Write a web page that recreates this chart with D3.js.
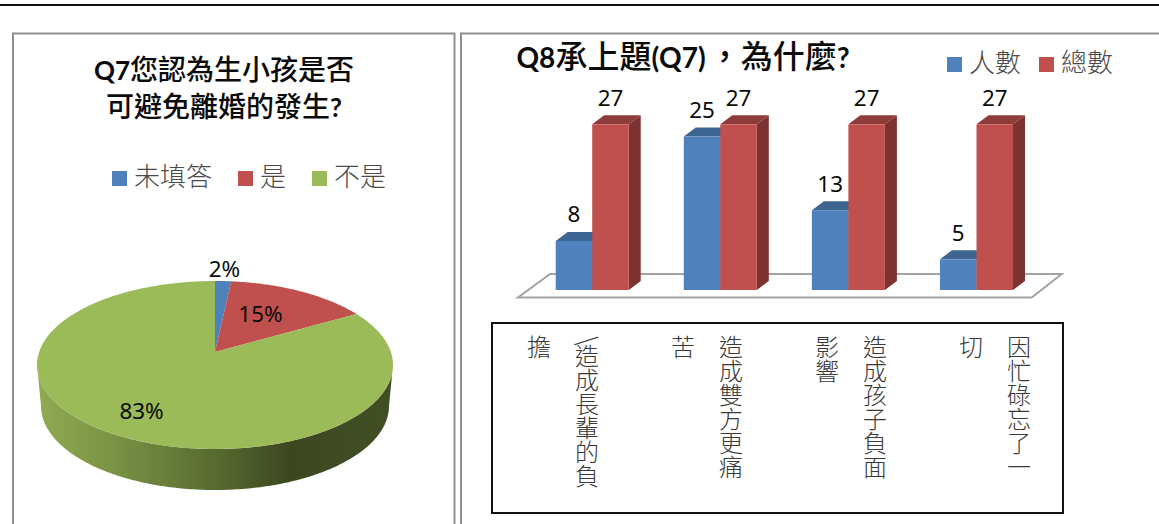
<!DOCTYPE html>
<html lang="zh-TW">
<head>
<meta charset="utf-8">
<script src="https://cdnjs.cloudflare.com/ajax/libs/d3/7.8.5/d3.min.js"></script>
<style>
html,body{margin:0;padding:0;background:#fff;overflow:hidden}
svg{display:block}
text{font-family:"Lato","Noto Sans CJK TC",sans-serif}
text.num{font-family:"Noto Sans","Noto Sans CJK TC",sans-serif}
</style>
</head>
<body>
<svg id="c" width="1159" height="524"></svg>
<script>
// Q7 data
const q7TitleLines = ["Q7您認為生小孩是否", "可避免離婚的發生?"];
const q7Names = ["未填答", "是", "不是"];
const q7Percent = [1.7, 15.0, 83.3];
const q7Colors = ["#4f81bd", "#c0504d", "#9bbb59"];
// Q8 data
const q8Title = "Q8承上題(Q7)，為什麼?";
const q8Categories = ["/造成長輩的負擔", "造成雙方更痛苦", "造成孩子負面影響", "因忙碌忘了一切"];
const q8WrapLength = [7, 6, 6, 6];
const q8SeriesNames = ["人數", "總數"];
const q8People = [8, 25, 13, 5];
const q8Total = [27, 27, 27, 27];

const svg = d3.select("#c");
const defs = svg.append("defs");

function frame(pts, color, w){
  svg.append("path").attr("d", d3.line()(pts)).attr("fill","none").attr("stroke",color).attr("stroke-width",w);
}
// page rule and panel frames
frame([[0,5],[1159,5]], "#111", 2);
frame([[13,524],[13,33.5],[454.5,33.5],[454.5,524]], "#8f8f8f", 2);
frame([[461,524],[461,33.5],[1159,33.5]], "#8f8f8f", 2);

function mixedTitle(parent, str, x, y, anchor, latinSize, cjkSize, runDx){
  const t = parent.append("text").attr("x",x).attr("y",y).attr("text-anchor",anchor).attr("fill","#0b0b0b");
  (str.match(/[\x00-\x7f]+|[^\x00-\x7f]+/g)||[]).forEach((run,i)=>{
    const latin = /^[\x00-\x7f]/.test(run);
    t.append("tspan").text(run)
      .attr("dx", runDx ? (runDx[i]||0) : 0)
      .attr("font-weight", latin ? 700 : 500)
      .attr("font-size", latin ? latinSize : cjkSize);
  });
}
function legend(names, colors, x0, ySquare, gap){
  let x = x0;
  names.forEach((n,i)=>{
    svg.append("rect").attr("x",x).attr("y",ySquare).attr("width",15).attr("height",15).attr("fill",colors[i]);
    svg.append("text").attr("x",x+22).attr("y",ySquare+15).attr("font-size",26).attr("font-weight",300).attr("fill","#4a4a4a").text(n);
    x += 22 + n.length*26 + gap;
  });
}

// ---------- Q7 pie ----------
q7TitleLines.forEach((l,i)=>mixedTitle(svg,l,224,[80,117][i],"middle",26,28));
legend(q7Names,q7Colors,112,171,26);

const pieCx = 215, pieCy = 365, rx = 178, ry = 84, depth = 41, tilt = 13/84;
const ex = d3.scaleLinear().domain([-1,1]).range([pieCx-rx,pieCx+rx]);
const ey = d3.scaleLinear().domain([-1,1]).range([pieCy+ry,pieCy-ry]);
// unit disc point -> perspective-tilted ellipse point
function project(a, r){
  const X = r*Math.sin(a), Y = r*Math.cos(a), den = 1+tilt*Y;
  return [ex(X*Math.sqrt(1-tilt*tilt)/den), ey((Y+tilt)/den)];
}
const arcs = d3.pie().sort(null).value(d=>d)(q7Percent);

// side wall
const sideGrad = defs.append("linearGradient").attr("id","side").attr("gradientUnits","userSpaceOnUse")
  .attr("x1",pieCx-rx).attr("x2",pieCx+rx).attr("y1",0).attr("y2",0);
[[0,"#90ab52"],[0.2,"#7b9445"],[0.5,"#586b30"],[0.71,"#3c4720"],[1,"#424f24"]].forEach(s=>
  sideGrad.append("stop").attr("offset",s[0]).attr("stop-color",s[1]));
const angles = d3.range(0,181).map(d=>d*Math.PI/180);
const topEdge = angles.map(t=>[pieCx+rx*Math.cos(t), pieCy+ry*Math.sin(t)]);
const botRx = rx-4;
const botEdge = angles.slice().reverse().map(t=>[pieCx+botRx*Math.cos(t), pieCy+depth+ry*Math.sin(t)]);
svg.append("path").attr("d",d3.line()(topEdge.concat(botEdge))+"Z").attr("fill","url(#side)");

// top face slices
const apex = project(0,0);
svg.selectAll(".slice").data(arcs).enter().append("path").attr("class","slice")
  .attr("fill",(d,i)=>q7Colors[i])
  .attr("d",d=>{
    const n = Math.max(2,Math.ceil((d.endAngle-d.startAngle)*60));
    const pts = d3.range(n+1).map(k=>project(d.startAngle+(d.endAngle-d.startAngle)*k/n,1));
    return d3.line()([apex].concat(pts))+"Z";
  });

// pie labels
const labelR = [1.2, 0.6, 0.75], labelDx = [0, -8, 0];
svg.selectAll(".plabel").data(arcs).enter().append("text").attr("class","plabel num")
  .attr("text-anchor","middle").attr("font-size",22.4).attr("fill","#0b0b0b")
  .attr("x",(d,i)=>project((d.startAngle+d.endAngle)/2,labelR[i])[0]+labelDx[i])
  .attr("y",(d,i)=>project((d.startAngle+d.endAngle)/2,labelR[i])[1]+8)
  .text(d=>d3.format(".0f")(d.data)+"%");

// ---------- Q8 bars ----------
mixedTitle(svg,q8Title,516.5,68,"start",28,32,[0,0,0,3,0]);
legend(q8SeriesNames,["#4f81bd","#c0504d"],947,57,18);

const x0 = d3.scaleBand().domain(q8Categories).range([555.7,1013]).paddingInner(0.43).paddingOuter(0);
const x1 = d3.scaleBand().domain(q8SeriesNames).range([0,x0.bandwidth()]);
const yS = d3.scaleLinear().domain([0,27]).range([290,124.3]);
const ddx = 12, ddy = 9;

// floor
svg.append("path").attr("d",d3.line()([[518,297.5],[1031.7,297.5],[1061.7,274],[550,274]])+"Z")
  .attr("fill","#fff").attr("stroke","#a3a3a3").attr("stroke-width",2);

const shades = {
  "人數":{front:"#4f81bd",top:"#3e6491",side:"#3a5f8b"},
  "總數":{front:"#c0504d",top:"#8e3b39",side:"#7d3230"}
};
q8Categories.forEach((c,i)=>{
  const g = svg.append("g");
  [q8People[i],q8Total[i]].forEach((v,k)=>{
    const name = q8SeriesNames[k], s = shades[name];
    const l = x0(c)+x1(name), w = x1.bandwidth(), t = yS(v), b = yS(0);
    g.append("path").attr("fill",s.side).attr("d",d3.line()([[l+w,t],[l+w+ddx,t-ddy],[l+w+ddx,b-ddy],[l+w,b]])+"Z");
    g.append("path").attr("fill",s.top).attr("d",d3.line()([[l,t],[l+ddx,t-ddy],[l+w+ddx,t-ddy],[l+w,t]])+"Z");
    g.append("rect").attr("x",l).attr("y",t).attr("width",w).attr("height",b-t).attr("fill",s.front);
    svg.append("text").attr("class","num").attr("x",l+w/2).attr("y",t-18.5).attr("text-anchor","middle")
      .attr("font-size",22.4).attr("fill","#0b0b0b").text(v);
  });
});

// category box (rotated labels)
svg.append("rect").attr("x",492).attr("y",323).attr("width",571).attr("height",190)
  .attr("fill","#fff").attr("stroke","#111").attr("stroke-width",2);
const xC = d3.scaleBand().domain(q8Categories).range([490,1066]);
function vText(x, y, str){
  svg.append("text").attr("x",x).attr("y",y)
    .style("writing-mode","vertical-rl").attr("font-size",24).attr("font-weight",300)
    .attr("fill","#3a3a3a").text(str);
}
q8Categories.forEach((c,i)=>{
  const cut = q8WrapLength[i], cx = xC(c)+xC.bandwidth()/2;
  let first = c.slice(0,cut);
  if(first[0]==="/"){
    // the leading slash lies almost flat above the first character
    svg.append("text").attr("text-anchor","middle").attr("font-size",30).attr("font-weight",300)
      .attr("fill","#3a3a3a").attr("transform",`translate(${cx+24},341) rotate(50) translate(0,10)`).text("/");
    first = first.slice(1);
    vText(cx+24,344,first);
  } else vText(cx+24,335,first);
  vText(cx-24,335,c.slice(cut));
});
</script>
</body>
</html>
